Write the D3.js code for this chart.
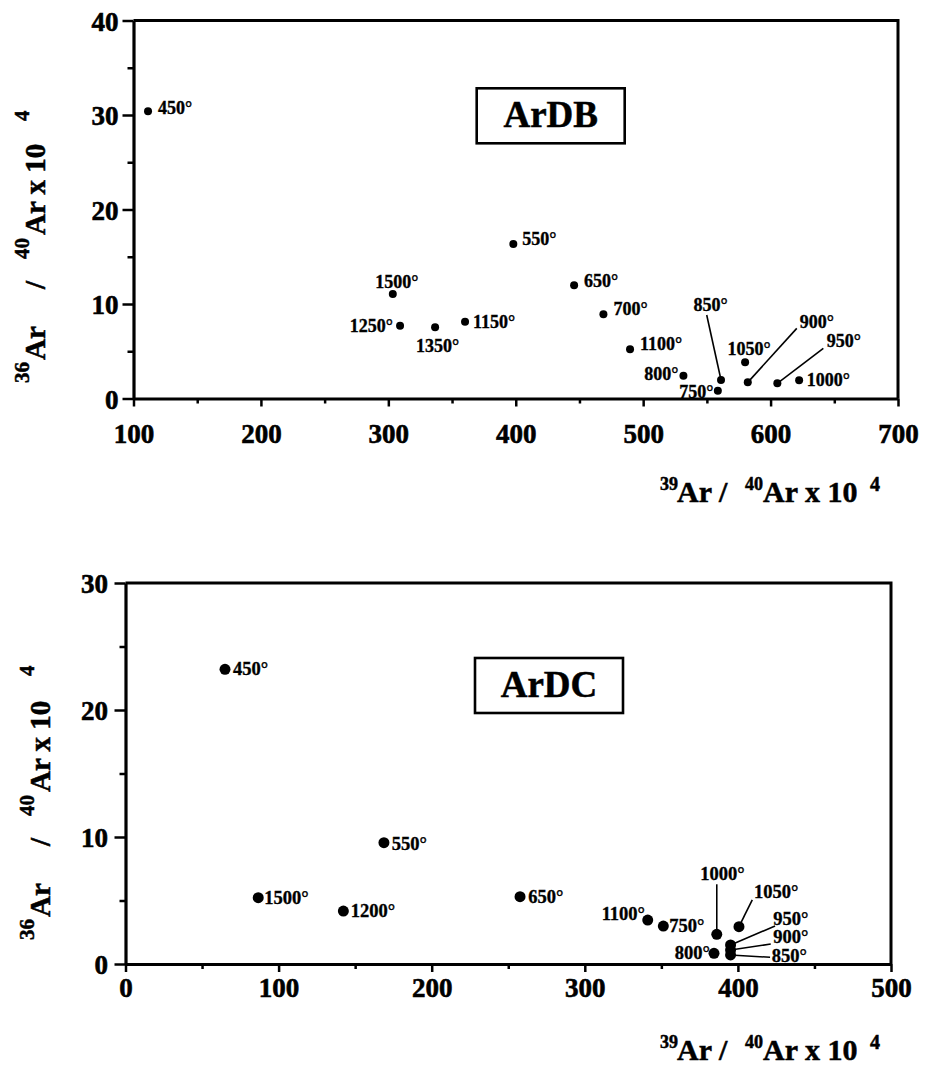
<!DOCTYPE html>
<html><head><meta charset="utf-8">
<script src="https://cdn.jsdelivr.net/npm/d3@7"></script>
<style>
body{margin:0;background:#fff}
svg{display:block}
text{font-family:"Liberation Serif","Times New Roman",serif;font-weight:bold;fill:#000;stroke:#000;stroke-width:0.35px}
</style>
</head><body>
<svg id="c" width="927" height="1079"></svg>
<script>
// ---------------- data ----------------
// ArDB (top panel)
const dbTemps = ["450°","550°","650°","700°","750°","800°","850°","900°","950°","1000°","1050°","1100°","1150°","1250°","1350°","1500°"];
const dbX = [111.4,398.1,445.8,468.8,558.6,531.6,561.1,582.1,605.3,622.4,580.0,489.7,360.2,309.2,336.7,303.5];
const dbY = [30.4,16.35,11.98,8.91,0.83,2.41,1.96,1.71,1.61,1.93,3.83,5.2,8.13,7.7,7.53,11.06];
const dbXTicks = [100,200,300,400,500,600,700];
const dbXMinor = [150,250,350,450,550,650];
const dbYTicks = [0,10,20,30,40];
const dbYMinor = [5,15,25,35];
// ArDC (bottom panel)
const dcTemps = ["450°","550°","650°","750°","800°","850°","900°","950°","1000°","1050°","1100°","1200°","1500°"];
const dcX = [65.0,168.8,257.7,351.3,384.4,395.2,395.2,395.2,386.2,400.7,341.1,142.3,86.7];
const dcY = [23.2,9.55,5.3,2.99,0.84,0.71,1.1,1.5,2.34,2.94,3.46,4.17,5.22];
const dcXTicks = [0,100,200,300,400,500];
const dcXMinor = [50,150,250,350,450];
const dcYTicks = [0,10,20,30];
const dcYMinor = [5,15,25];

// ---------------- label layout (pixel offsets from the dot) ----------------
// [dx, dy, anchor, leaderStartDx, leaderStartDy]
const dbLabelLayout = {
  "450°":[10,2.5,"start"], "550°":[9,1,"start"], "650°":[10,1.5,"start"], "700°":[10,1,"start"],
  "750°":[-4.5,7,"end"], "800°":[-5,4,"end"], "850°":[-10.5,-69,"middle",-14.3,-65],
  "900°":[52,-54,"start",49,-54], "950°":[49.4,-36,"start",46,-35], "1000°":[7.7,6,"start"],
  "1050°":[4,-7,"middle"], "1100°":[10,1,"start"], "1150°":[8,6,"start"], "1250°":[-7,6,"end"],
  "1350°":[2.5,25,"middle"], "1500°":[4,-6,"middle"]
};
const dcLabelLayout = {
  "450°":[8,6,"start"], "550°":[7.7,7,"start"], "650°":[8.3,6.6,"start"], "750°":[6,5.7,"start"],
  "800°":[-4,6,"end"], "850°":[41.2,6.7,"start",39.5,2.3], "900°":[42.8,-6.7,"start",40.2,-6],
  "950°":[42.8,-20,"start",44.5,-19], "1000°":[5.8,-54,"middle",0,-50], "1050°":[15,-28.5,"start",13.3,-26.7],
  "1100°":[-2.7,0,"end"], "1200°":[7.4,6.3,"start"], "1500°":[6,6.5,"start"]
};

const svg = d3.select("#c");

function panel(o){
  const x = d3.scaleLinear().domain(o.xDomain).range(o.xRange);
  const y = d3.scaleLinear().domain(o.yDomain).range(o.yRange);
  const g = svg.append("g");
  const [x0,x1] = x.range(), [y0,y1] = y.range();

  // frame: top and right borders
  g.append("path").attr("d",`M${x0},${y1}H${x1}V${y0}`)
    .attr("fill","none").attr("stroke","#000").attr("stroke-width",3);

  // x minor ticks
  g.append("g").attr("transform",`translate(0,${y0})`)
    .call(d3.axisBottom(x).tickValues(o.xMinor).tickSize(5).tickSizeOuter(0).tickFormat(""))
    .call(s=>s.select(".domain").remove())
    .selectAll("line").attr("stroke-width",2.5);
  // x major axis
  const xa = g.append("g").attr("transform",`translate(0,${y0})`)
    .call(d3.axisBottom(x).tickValues(o.xTicks).tickSize(8).tickSizeOuter(0));
  xa.select(".domain").attr("stroke-width",3.2);
  xa.selectAll("line").attr("stroke-width",2.5);
  xa.selectAll("text").attr("y",o.xLabelOffset).attr("dy",0)
    .style("font-size","27px").style("font-family",'"Liberation Serif",serif').style("font-weight","bold")
    .style("stroke","#000").style("stroke-width","0.6px");

  // y minor ticks
  g.append("g").attr("transform",`translate(${x0},0)`)
    .call(d3.axisLeft(y).tickValues(o.yMinor).tickSize(6).tickSizeOuter(0).tickFormat(""))
    .call(s=>s.select(".domain").remove())
    .selectAll("line").attr("stroke-width",2.5);
  // y major axis
  const ya = g.append("g").attr("transform",`translate(${x0},0)`)
    .call(d3.axisLeft(y).tickValues(o.yTicks).tickSize(11).tickSizeOuter(0));
  ya.select(".domain").attr("stroke-width",3.2);
  ya.selectAll("line").attr("stroke-width",2.5);
  ya.selectAll("text").attr("x",-o.yLabelGap).attr("dy","0.36em")
    .style("font-size","27px").style("font-family",'"Liberation Serif",serif').style("font-weight","bold")
    .style("stroke","#000").style("stroke-width","0.6px");

  // data
  const pts = o.temps.map((t,i)=>({t, x:o.xs[i], y:o.ys[i], L:o.layout[t]}));
  // leader lines
  g.selectAll(".leader").data(pts.filter(d=>d.L.length>3)).join("line")
    .attr("x1",d=>x(d.x)+d.L[3]).attr("y1",d=>y(d.y)+d.L[4])
    .attr("x2",d=>x(d.x)).attr("y2",d=>y(d.y))
    .attr("stroke","#000").attr("stroke-width",1.6);
  g.selectAll(".dot").data(pts).join("circle")
    .attr("cx",d=>x(d.x)).attr("cy",d=>y(d.y)).attr("r",o.r).attr("fill","#000");
  g.selectAll(".lab").data(pts).join("text")
    .attr("x",d=>x(d.x)+d.L[0]).attr("y",d=>y(d.y)+d.L[1])
    .attr("text-anchor",d=>d.L[2]).style("font-size",o.labelSize+"px")
    .text(d=>d.t);

  // name box
  const bw = 148, bh = 55;
  g.append("rect").attr("x",o.box[0]).attr("y",o.box[1]).attr("width",bw).attr("height",bh)
    .attr("fill","#fff").attr("stroke","#000").attr("stroke-width",2.6);
  g.append("text").attr("x",o.box[0]+bw/2).attr("y",o.box[1]+39).attr("text-anchor","middle")
    .style("font-size","37px").style("stroke-width","0.5px").text(o.name);

  // x-axis title
  const xt = g.append("text").attr("x",o.xTitle[0]).attr("y",o.xTitle[1])
    .style("font-size","30px").style("stroke-width","0.5px");
  xt.append("tspan").attr("x",o.xTitle[0]).attr("dy",-12).style("font-size","18px").text("39");
  xt.append("tspan").attr("x",o.xTitle[0]+17).attr("dy",12).text("Ar /");
  xt.append("tspan").attr("x",o.xTitle[0]+85).attr("dy",-12).style("font-size","18px").text("40");
  xt.append("tspan").attr("x",o.xTitle[0]+103).attr("dy",12).text("Ar x 10");
  xt.append("tspan").attr("x",o.xTitle[0]+210).attr("dy",-11).style("font-size","20px").text("4");

  // y-axis title (rotated)
  const yt = g.append("text").attr("transform",`translate(${o.yTitle[0]},${o.yTitle[1]}) rotate(-90)`)
    .style("font-size","29px").style("stroke-width","0.5px");
  yt.append("tspan").attr("x",0).attr("y",-16).style("font-size","21px").text("36");
  yt.append("tspan").attr("x",23).attr("y",0).text("Ar");
  yt.append("tspan").attr("x",94).attr("y",0).text("/");
  yt.append("tspan").attr("x",124).attr("y",-16).style("font-size","21px").text("40");
  yt.append("tspan").attr("x",148).attr("y",0).text("Ar x 10");
  yt.append("tspan").attr("x",o.yTitleSupPos).attr("y",-16).style("font-size","21px").text("4");
}

panel({
  name:"ArDB", temps:dbTemps, xs:dbX, ys:dbY, layout:dbLabelLayout,
  xDomain:[100,700], xRange:[133.5,898], yDomain:[0,40], yRange:[398.5,20.5],
  xTicks:dbXTicks, xMinor:dbXMinor, yTicks:dbYTicks, yMinor:dbYMinor,
  xLabelOffset:44.5, yLabelGap:15, r:4, labelSize:18,
  box:[476.7,88.3], xTitle:[660,502], yTitle:[45,383], yTitleSupPos:262
});
panel({
  name:"ArDC", temps:dcTemps, xs:dcX, ys:dcY, layout:dcLabelLayout,
  xDomain:[0,500], xRange:[125.5,891], yDomain:[0,30], yRange:[964,583],
  xTicks:dcXTicks, xMinor:dcXMinor, yTicks:dcYTicks, yMinor:dcYMinor,
  xLabelOffset:33, yLabelGap:17.5, r:5.5, labelSize:18.5,
  box:[475,658], xTitle:[660,1060], yTitle:[50,940], yTitleSupPos:264
});
</script>
</body></html>
